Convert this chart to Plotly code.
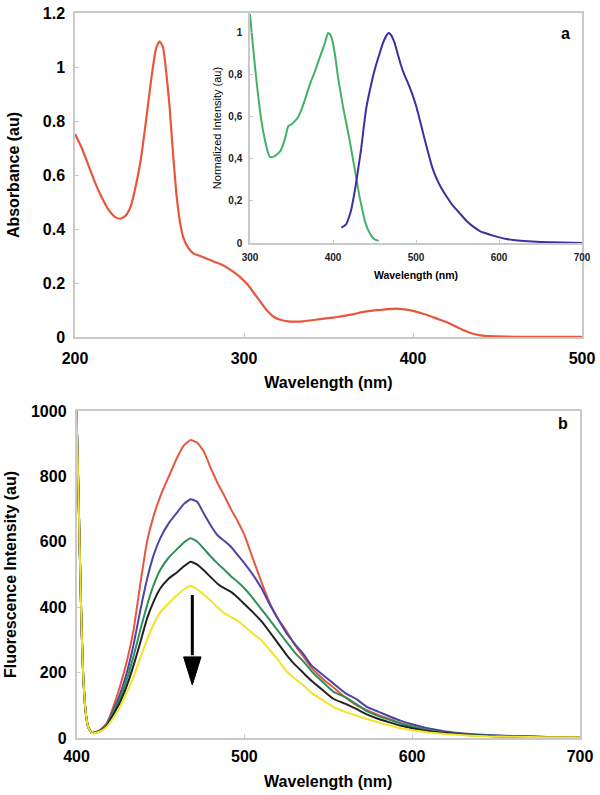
import plotly.graph_objects as go

# ---------------- Panel a: absorbance ----------------
abs_wl = [200, 204, 208, 212, 216, 220, 224, 227, 230, 233, 236, 239, 242, 245, 248, 250, 252, 254,
          256, 258, 260, 262, 264, 267, 270, 274, 278, 282, 286, 290, 294, 298, 302, 306, 310, 314,
          318, 322, 326, 330, 335, 340, 345, 350, 355, 360, 365, 370, 375, 380, 385, 390, 395, 400,
          405, 410, 415, 420, 425, 430, 435, 440, 445, 450, 460, 480, 500]
abs_val = [0.752, 0.70, 0.635, 0.57, 0.515, 0.47, 0.443, 0.438, 0.45, 0.485, 0.56, 0.66, 0.80, 0.95,
           1.07, 1.095, 1.075, 0.98, 0.85, 0.68, 0.53, 0.43, 0.37, 0.33, 0.31, 0.30, 0.29, 0.28, 0.27,
           0.257, 0.24, 0.22, 0.195, 0.162, 0.128, 0.095, 0.073, 0.063, 0.058, 0.057, 0.058, 0.062,
           0.066, 0.070, 0.074, 0.079, 0.085, 0.092, 0.097, 0.100, 0.103, 0.105, 0.102, 0.097, 0.088,
           0.078, 0.066, 0.055, 0.040, 0.025, 0.013, 0.006, 0.003, 0.002, 0.001, 0.001, 0.001]

# Inset: normalized excitation (green) and emission (blue)
exc_wl = [300, 303, 306, 309, 312, 315, 318, 321, 324, 328, 332, 336, 340, 343, 346, 350, 354, 358,
          362, 366, 370, 374, 378, 382, 386, 390, 394, 397, 400, 403, 406, 409, 412, 416, 420, 424,
          428, 432, 435, 438, 442, 446, 450, 455]
exc_val = [1.09, 0.96, 0.84, 0.73, 0.63, 0.55, 0.49, 0.44, 0.41, 0.41, 0.42, 0.435, 0.47, 0.51, 0.555,
           0.565, 0.58, 0.60, 0.635, 0.68, 0.73, 0.775, 0.815, 0.86, 0.905, 0.95, 1.0, 0.99, 0.95,
           0.88, 0.79, 0.72, 0.65, 0.57, 0.49, 0.40, 0.31, 0.22, 0.165, 0.11, 0.065, 0.035, 0.018, 0.01]

em_wl = [410, 413, 416, 419, 422, 425, 428, 431, 434, 437, 440, 444, 448, 452, 456, 460, 464, 467,
         470, 474, 478, 482, 486, 490, 495, 500, 505, 510, 515, 520, 525, 530, 537, 545, 553, 561,
         569, 577, 585, 593, 605, 617, 630, 650, 675, 700]
em_val = [0.073, 0.08, 0.09, 0.12, 0.16, 0.22, 0.29, 0.37, 0.45, 0.55, 0.64, 0.72, 0.79, 0.85, 0.90,
          0.95, 0.985, 1.0, 0.99, 0.955, 0.90, 0.845, 0.80, 0.765, 0.715, 0.655, 0.58, 0.50, 0.425,
          0.355, 0.305, 0.265, 0.22, 0.175, 0.14, 0.105, 0.078, 0.057, 0.045, 0.035, 0.022, 0.014,
          0.009, 0.005, 0.002, 0.0]

inset_yticks = [0, 0.2, 0.4, 0.6, 0.8, 1.0]
inset_yticklabels = ["0", "0,2", "0,4", "0,6", "0,8", "1"]

# ---------------- Panel b: fluorescence titration ----------------
fl_wl = [400, 401, 402, 403, 404, 405, 406, 407, 409, 411, 414, 418, 422, 426, 430, 434, 438, 442,
         446, 450, 455, 460, 464, 468, 472, 476, 480, 484, 488, 492, 496, 500, 505, 510, 515, 520,
         525, 530, 535, 540, 547, 553, 560, 567, 573, 580, 587, 593, 600, 610, 620, 633, 645, 660,
         680, 700]
fl_red = [1000, 790, 560, 340, 190, 105, 58, 33, 16, 17, 24, 45, 96, 160, 235, 330, 470, 600,
          680, 740, 800, 858, 895, 911, 903, 875, 825, 780, 742, 700, 663, 622, 550, 480, 415, 365,
          328, 285, 250, 215, 180, 155, 125, 100, 85, 70, 57, 46, 36, 24, 17, 11, 7, 5, 3, 2]
fl_blue = [1000, 790, 560, 340, 190, 105, 58, 33, 16, 17, 23, 42, 85, 135, 200, 285, 390, 485,
           560, 612, 657, 690, 716, 730, 722, 685, 650, 620, 603, 585, 560, 535, 500, 460, 410, 365,
           322, 288, 258, 222, 192, 167, 138, 118, 95, 80, 65, 53, 42, 29, 20, 13, 9, 6, 3, 2]
fl_green = [1000, 790, 560, 340, 190, 105, 58, 33, 16, 17, 22, 40, 80, 122, 180, 250, 330, 405,
            468, 515, 552, 578, 598, 611, 600, 578, 555, 534, 515, 495, 478, 458, 428, 395, 362, 328,
            295, 262, 235, 205, 170, 142, 125, 103, 82, 67, 55, 45, 35, 23, 16, 10, 7, 5, 3, 2]
fl_black = [1000, 790, 560, 340, 190, 105, 58, 33, 16, 16, 21, 37, 72, 110, 160, 222, 292, 365,
            418, 458, 488, 507, 525, 539, 530, 512, 492, 472, 458, 447, 430, 410, 385, 358, 325, 290,
            255, 225, 200, 175, 145, 120, 105, 88, 72, 58, 47, 38, 30, 21, 15, 9, 6, 4, 3, 2]
fl_yellow = [1000, 790, 560, 340, 190, 105, 58, 33, 15, 15, 20, 34, 62, 96, 140, 188, 245, 300,
             348, 385, 412, 437, 455, 465, 455, 438, 420, 400, 382, 370, 358, 342, 320, 300, 270, 240,
             205, 182, 162, 138, 115, 95, 80, 68, 58, 47, 38, 30, 24, 17, 12, 8, 5, 4, 2, 2]

fl_series = [("red", fl_red, "#e5573f"), ("blue", fl_blue, "#4c44a6"), ("green", fl_green, "#2f8f5b"),
             ("black", fl_black, "#222222"), ("yellow", fl_yellow, "#f3e22a")]

# arrow (wavelength, intensity) : shaft top, head base, tip
arrow_x = 469
arrow_top, arrow_head_base, arrow_tip = 437, 248, 162

FONT = "Arial, Liberation Sans, Helvetica, sans-serif"
FRAME = "#c9c9c9"

# body margin removed by post_script, so the figure fills the 600x795 window
W, H = 600, 795
def PX(x):
    return x / W
def PY(y):
    return 1 - y / H

fig = go.Figure()
fig.add_trace(go.Scatter(x=abs_wl, y=abs_val, mode="lines", line=dict(color="#e8563c", width=2.2, shape="spline", smoothing=0.5),
                         xaxis="x", yaxis="y", showlegend=False))
fig.add_trace(go.Scatter(x=exc_wl, y=exc_val, mode="lines", line=dict(color="#45b068", width=2, shape="spline", smoothing=0.4),
                         xaxis="x2", yaxis="y2", showlegend=False))
fig.add_trace(go.Scatter(x=em_wl, y=em_val, mode="lines", line=dict(color="#3d2f9e", width=2, shape="spline", smoothing=0.4),
                         xaxis="x2", yaxis="y2", showlegend=False))
for name, vals, col in fl_series:
    fig.add_trace(go.Scatter(x=fl_wl, y=vals, mode="lines", name=name,
                             line=dict(color=col, width=2, shape="spline", smoothing=0.4),
                             xaxis="x3", yaxis="y3", showlegend=False))

def main_axis(**kw):
    d = dict(showline=True, linecolor=FRAME, linewidth=1.5, mirror=True, ticks="inside", ticklen=4,
             tickcolor=FRAME, showgrid=False, zeroline=False, automargin=False, ticklabeloverflow="allow",
             tickfont=dict(family=FONT, size=16, color="black", weight="bold"))
    d.update(kw)
    return d

def inset_axis(**kw):
    d = dict(showline=True, linecolor=FRAME, linewidth=1.5, ticks="inside", ticklen=3, tickcolor=FRAME,
             showgrid=False, zeroline=False, automargin=False,
             tickfont=dict(family=FONT, size=10, color="#222", weight="bold"))
    d.update(kw)
    return d

def title(text, size=16, weight="bold", standoff=None):
    t = dict(text=text, font=dict(family=FONT, size=size, color="black", weight=weight))
    if standoff is not None:
        t["standoff"] = standoff
    return t

fig.update_layout(
    template="none",
    width=W, height=H, margin=dict(l=0, r=0, t=0, b=0),
    paper_bgcolor="white", plot_bgcolor="white",
    xaxis=main_axis(domain=[PX(75), PX(582)], range=[200, 500], tickvals=[200, 300, 400, 500],
                    anchor="y", ticklabelstandoff=6, title=title("Wavelength (nm)", standoff=11)),
    yaxis=main_axis(domain=[PY(337), PY(13)], range=[0, 1.2], tickvals=[0, 0.2, 0.4, 0.6, 0.8, 1, 1.2],
                    anchor="x", ticklabelstandoff=5, title=title("Absorbance (au)", standoff=19)),
    xaxis2=inset_axis(domain=[PX(250), PX(582)], range=[300, 700], tickvals=[300, 400, 500, 600, 700],
                      anchor="y2", ticklabelstandoff=4, title=title("Wavelength (nm)", size=10.5, standoff=10)),
    yaxis2=inset_axis(domain=[PY(243), PY(13)], range=[0, 1.095], tickvals=inset_yticks,
                      ticktext=inset_yticklabels, anchor="x2", ticklabelstandoff=4,
                      title=title("Normalized Intensity (au)", size=11, weight="normal", standoff=4)),
    xaxis3=main_axis(domain=[PX(76.5), PX(580)], range=[400, 700], tickvals=[400, 500, 600, 700],
                     anchor="y3", ticklabelstandoff=3, title=title("Wavelength (nm)", standoff=12)),
    yaxis3=main_axis(domain=[PY(738), PY(411)], range=[0, 1000], tickvals=[0, 200, 400, 600, 800, 1000],
                     anchor="x3", ticklabelstandoff=5, title=title("Fluorescence Intensity (au)", standoff=10)),
    annotations=[
        dict(text="a", x=PX(572), y=PY(23), xref="paper", yref="paper", showarrow=False,
             font=dict(family=FONT, size=16, color="black", weight="bold")),
        dict(text="b", x=PX(570), y=PY(423), xref="paper", yref="paper", showarrow=False,
             font=dict(family=FONT, size=16, color="black", weight="bold")),
    ],
    shapes=[
        dict(type="line", xref="x3", yref="y3", x0=arrow_x, x1=arrow_x, y0=arrow_top, y1=arrow_head_base + 5,
             line=dict(color="black", width=3)),
        dict(type="path", xref="x3", yref="y3",
             path=f"M {arrow_x-5.2},{arrow_head_base} L {arrow_x+5.2},{arrow_head_base} L {arrow_x},{arrow_tip} Z",
             fillcolor="black", line=dict(color="black", width=1)),
    ],
)

fig.write_html("out.html", config={"displayModeBar": False},
               post_script="document.body.style.margin='0px';document.body.style.overflow='hidden';")
